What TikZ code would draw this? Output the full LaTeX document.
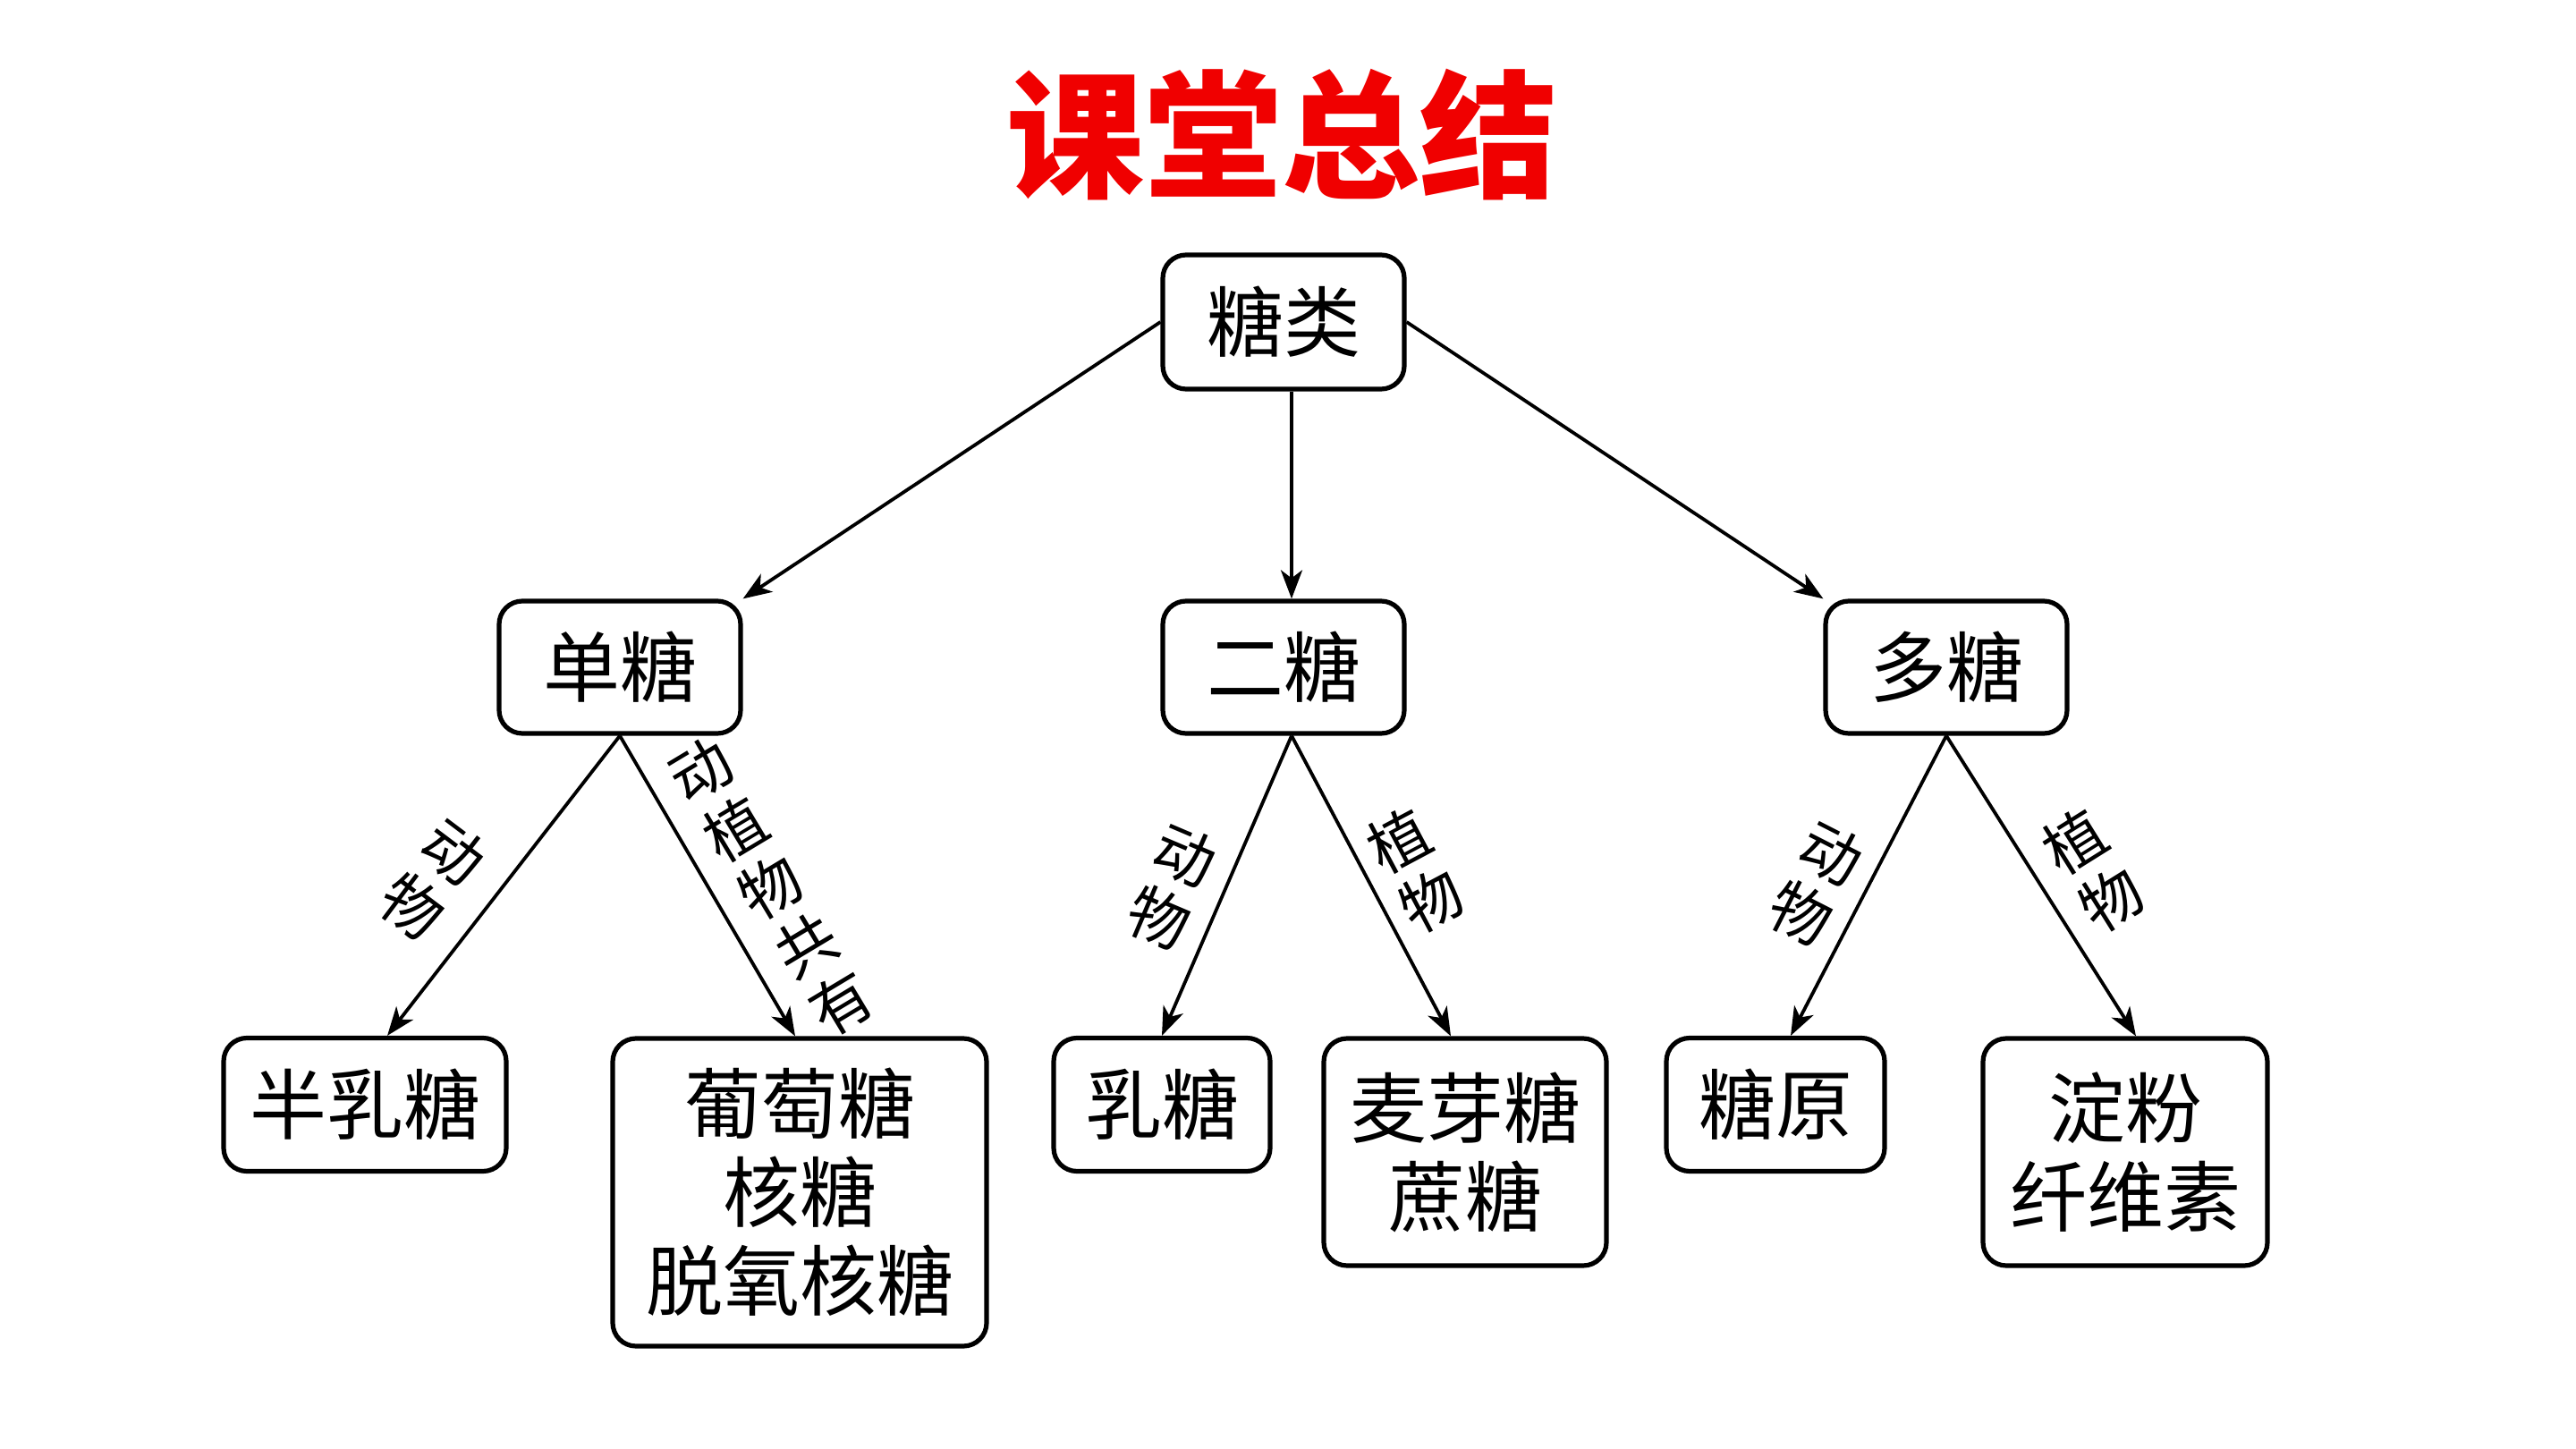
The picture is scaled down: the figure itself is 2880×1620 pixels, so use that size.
\documentclass[tikz,border=0pt]{standalone}
\usepackage{fontspec}
\newfontfamily\cjk{Noto Sans CJK SC}
\usetikzlibrary{arrows.meta}
\definecolor{titlered}{RGB}{240,0,0}
\tikzset{
  box/.style={draw, line width=2.6pt, rounded corners=13pt, align=center, inner sep=0pt,
    font=\cjk\fontsize{43pt}{49.5pt}\selectfont},
  conn/.style={line width=1.9pt, -{Stealth[length=16pt,width=12pt,inset=4.5pt]}},
  lab/.style={align=center, inner sep=0pt, font=\cjk\fontsize{34pt}{38pt}\selectfont},
}
\begin{document}
\begin{tikzpicture}[x=0.5pt,y=-0.5pt]
\useasboundingbox (0,0) rectangle (2880,1620);
\node[font=\cjk\bfseries\fontsize{77pt}{80pt}\selectfont, text=titlered] (title) at (1433,151) {课堂总结};

\node[box, minimum width=135pt, minimum height=75pt] (top) at (1435,360) {糖类};
\node[box, minimum width=135pt, minimum height=74pt] (mono) at (693,746) {单糖};
\node[box, minimum width=135pt, minimum height=74pt] (di) at (1435,746) {二糖};
\node[box, minimum width=135pt, minimum height=74pt] (poly) at (2176,746) {多糖};

\node[box, minimum width=158pt, minimum height=74.5pt] (gal) at (408,1235) {半乳糖};
\node[box, minimum width=209pt, minimum height=172pt] (glu) at (894,1333) {葡萄糖\\核糖\\脱氧核糖};
\node[box, minimum width=121pt, minimum height=74.5pt] (lac) at (1299,1235) {乳糖};
\node[box, minimum width=158pt, minimum height=127pt] (mal) at (1638,1288) {麦芽糖\\蔗糖};
\node[box, minimum width=122pt, minimum height=74.5pt] (gly) at (1985,1235) {糖原};
\node[box, minimum width=159pt, minimum height=127pt] (sta) at (2376,1288) {淀粉\\纤维素};

\draw[conn] (top.west) -- (mono.north east);
\draw[conn] (top.south -| 1444,0) -- (di.north -| 1444,0);
\draw[conn] (top.east) -- (poly.north west);

\draw[conn] (mono.south) -- (gal.north -| 433,0);
\draw[conn] (mono.south) -- (glu.north -| 889,0);
\draw[conn] (di.south -| 1444,0) -- (lac.north);
\draw[conn] (di.south -| 1444,0) -- (mal.north -| 1622,0);
\draw[conn] (poly.south) -- (gly.north -| 2002,0);
\draw[conn] (poly.south) -- (sta.north -| 2388,0);

\node[lab, rotate=-37] (l1) at (484,983) {动\\物};
\node[lab, rotate=31] (l2) at (862,992) {动\\植\\物\\共\\有};
\node[lab, rotate=-23] (l3) at (1310,992) {动\\物};
\node[lab, rotate=28] (l4) at (1582,973) {植\\物};
\node[lab, rotate=-27] (l5) at (2030,988) {动\\物};
\node[lab, rotate=32] (l6) at (2340,973) {植\\物};
\end{tikzpicture}
\end{document}
